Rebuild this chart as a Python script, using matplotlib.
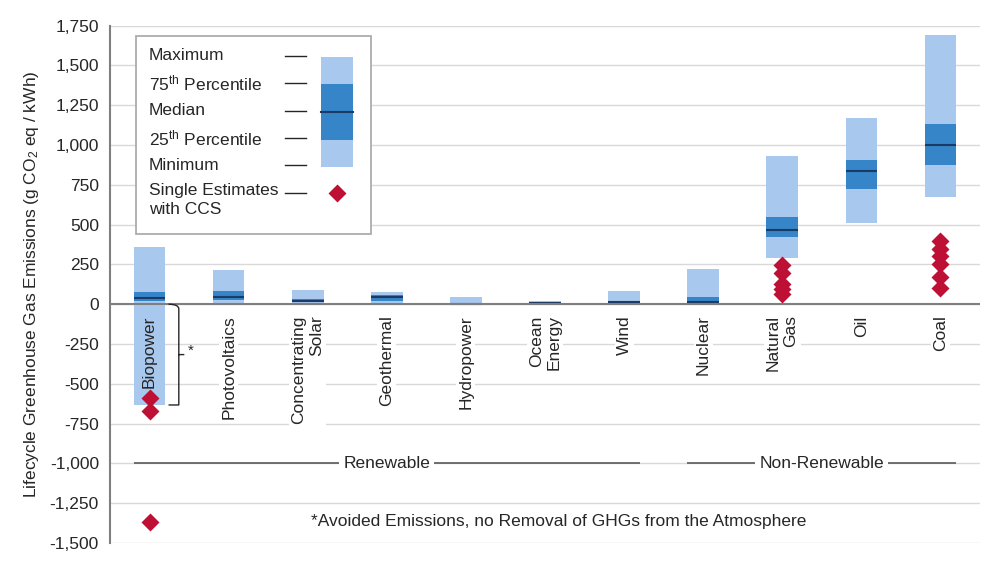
import matplotlib
matplotlib.use("Agg")
import matplotlib.pyplot as plt
from matplotlib.patches import Rectangle, PathPatch
from matplotlib.path import Path
import numpy as np

plt.rcParams['font.family'] = ['Liberation Sans', 'DejaVu Sans']
plt.rcParams['mathtext.fontset'] = 'custom'
plt.rcParams['mathtext.rm'] = 'Liberation Sans'

# data (g CO2 eq / kWh)
techs = ["Biopower", "Photovoltaics", "Concentrating\nSolar", "Geothermal", "Hydropower",
         "Ocean\nEnergy", "Wind", "Nuclear", "Natural\nGas", "Oil", "Coal"]
v_min = [-633, 5, 7, 6, 0, 2, 2, 1, 290, 510, 675]
v_p25 = [18, 29, 14, 20, 3, 6, 8, 8, 422, 722, 877]
v_med = [37, 46, 22, 45, 4, 8, 12, 16, 469, 840, 1001]
v_p75 = [75, 80, 32, 57, 7, 9, 20, 45, 548, 907, 1130]
v_max = [360, 217, 89, 79, 43, 23, 81, 220, 930, 1170, 1689]

# single estimates with CCS
ccs_bio = [-590, -670, -1368]
ccs_gas = [245, 195, 130, 95, 65]
ccs_coal = [400, 350, 300, 255, 170, 100]

yticks = [-1500, -1250, -1000, -750, -500, -250, 0, 250, 500, 750, 1000, 1250, 1500, 1750]

light = "#A9C8EE"
mid = "#3585C8"
dark = "#1B3A66"
red = "#BE0F34"
txt = "#262626"
fs = 12.5

fig = plt.figure(figsize=(10, 5.7), dpi=100)
ax = fig.add_axes([0.11, 0.0474, 0.87, 0.9076])

x = np.arange(len(techs))
w = 0.4
ax.bar(x, np.array(v_max) - np.array(v_min), bottom=v_min, width=w, color=light, zorder=3)
ax.bar(x, np.array(v_p75) - np.array(v_p25), bottom=v_p25, width=w, color=mid, zorder=3)
ax.hlines(v_med, x - w / 2, x + w / 2, color=dark, lw=1.5, zorder=4)

ax.plot([0] * len(ccs_bio), ccs_bio, 'D', color=red, ms=9, mec='none', zorder=5)
ax.plot([8] * len(ccs_gas), ccs_gas, 'D', color=red, ms=9, mec='none', zorder=5)
ax.plot([10] * len(ccs_coal), ccs_coal, 'D', color=red, ms=9, mec='none', zorder=5)

ax.set_xlim(-0.5, 10.5)
ax.set_ylim(-1500, 1750)
ax.set_yticks(yticks)
ax.set_yticklabels([f"{t:,}" for t in yticks], fontsize=fs, color=txt)
ax.tick_params(axis='y', length=0, pad=8)
ax.set_xticks([])
ax.yaxis.grid(True, color="#D9D9D9", lw=1, zorder=0)
ax.set_axisbelow(True)
for s in ['top', 'right', 'bottom']:
    ax.spines[s].set_visible(False)
ax.spines['left'].set_color("#7F7F7F")
ax.spines['left'].set_linewidth(1.5)
ax.axhline(0, color="#7F7F7F", lw=1.5, zorder=4)

ax.set_ylabel("Lifecycle Greenhouse Gas Emissions (g CO$\\mathregular{_2}$ eq / kWh)",
              fontsize=fs, color=txt, labelpad=6)

# category labels
for i, name in enumerate(techs):
    bb = None if i == 0 else dict(facecolor='white', edgecolor='none', pad=1.5)
    ax.annotate(name, (i, 0), xytext=(0, -8), textcoords='offset points', rotation=90,
                ha='center', va='top', multialignment='right', fontsize=fs,
                color=txt, bbox=bb, zorder=6)

# bracket for biopower negative part
bx0, bx1 = 0.24, 0.37
ytop, ybot = 0, v_min[0]
ym = (ytop + ybot) / 2
verts = [(bx0, ytop), (bx1, ytop), (bx1, ytop - 30), (bx1, ytop - 40),
         (bx1, ym + 30), (bx1, ym), (bx1 + 0.07, ym),
         (bx1, ym), (bx1, ym - 30), (bx1, ybot + 40),
         (bx1, ybot + 30), (bx1, ybot), (bx0, ybot)]
codes = [Path.MOVETO, Path.CURVE3, Path.CURVE3, Path.LINETO,
         Path.CURVE3, Path.CURVE3, Path.LINETO,
         Path.MOVETO, Path.CURVE3, Path.LINETO,
         Path.CURVE3, Path.CURVE3, Path.LINETO]
ax.add_patch(PathPatch(Path(verts, codes), fill=False, lw=1, ec=txt, zorder=5))
ax.text(bx1 + 0.11, ym + 25, "*", fontsize=11, color=txt, ha='left', va='center')

# renewable / non-renewable separators
ax.hlines(-1000, -0.2, 6.2, color="#595959", lw=1.2, zorder=4)
ax.hlines(-1000, 6.8, 10.2, color="#595959", lw=1.2, zorder=4)
ax.text(3.0, -1000, "Renewable", fontsize=12.5, color=txt, ha='center', va='center',
        bbox=dict(facecolor='white', edgecolor='none', pad=3), zorder=5)
ax.text(8.5, -1000, "Non-Renewable", fontsize=12.5, color=txt, ha='center', va='center',
        bbox=dict(facecolor='white', edgecolor='none', pad=3), zorder=5)
ax.text(5.17, ccs_bio[2], "*Avoided Emissions, no Removal of GHGs from the Atmosphere",
        fontsize=12.5, color=txt, ha='center', va='center')

# legend box
def px(xp, yp):
    return (xp / 1000, 1 - yp / 570)

tf = fig.transFigure
x0, y0 = px(136, 234)
x1, y1 = px(371, 36)
fig.patches.append(Rectangle((x0, y0), x1 - x0, y1 - y0, transform=tf, facecolor='white',
                             edgecolor='#A6A6A6', lw=1.2, zorder=10))
leg_labels = ["Maximum", "75$\\mathregular{^{th}}$ Percentile", "Median",
              "25$\\mathregular{^{th}}$ Percentile", "Minimum", "Single Estimates\nwith CCS"]
leg_y = [56, 83, 111, 138, 165, 193]
for lab, yy in zip(leg_labels, leg_y):
    va = 'center'
    xt, yt = px(149, yy)
    if "\n" in lab:
        va = 'top'
        xt, yt = px(149, yy - 10)
    fig.text(xt, yt, lab, fontsize=fs, color=txt, ha='left', va=va, linespacing=1.35, zorder=11)
    la, lb = px(285, yy)
    lc, _ = px(306, yy)
    fig.add_artist(plt.Line2D([la, lc], [lb, lb], transform=tf, color=txt, lw=1, zorder=11))

# legend sample box
sx0, _ = px(321, 0)
sx1, _ = px(353, 0)
samp = [167, 140, 112, 84, 57]
_, s_min = px(0, samp[0])
_, s_25 = px(0, samp[1])
_, s_md = px(0, samp[2])
_, s_75 = px(0, samp[3])
_, s_max = px(0, samp[4])
fig.patches.append(Rectangle((sx0, s_min), sx1 - sx0, s_max - s_min, transform=tf,
                             facecolor=light, edgecolor='none', zorder=11))
fig.patches.append(Rectangle((sx0, s_25), sx1 - sx0, s_75 - s_25, transform=tf,
                             facecolor=mid, edgecolor='none', zorder=12))
fig.add_artist(plt.Line2D([sx0, sx1], [s_md, s_md], transform=tf, color=dark, lw=1.5, zorder=13))
dx, dy = px(337, 193)
fig.add_artist(plt.Line2D([dx], [dy], transform=tf, marker='D', ms=9, color=red, mec='none',
                          zorder=13))

fig.savefig("out.png", dpi=100)
